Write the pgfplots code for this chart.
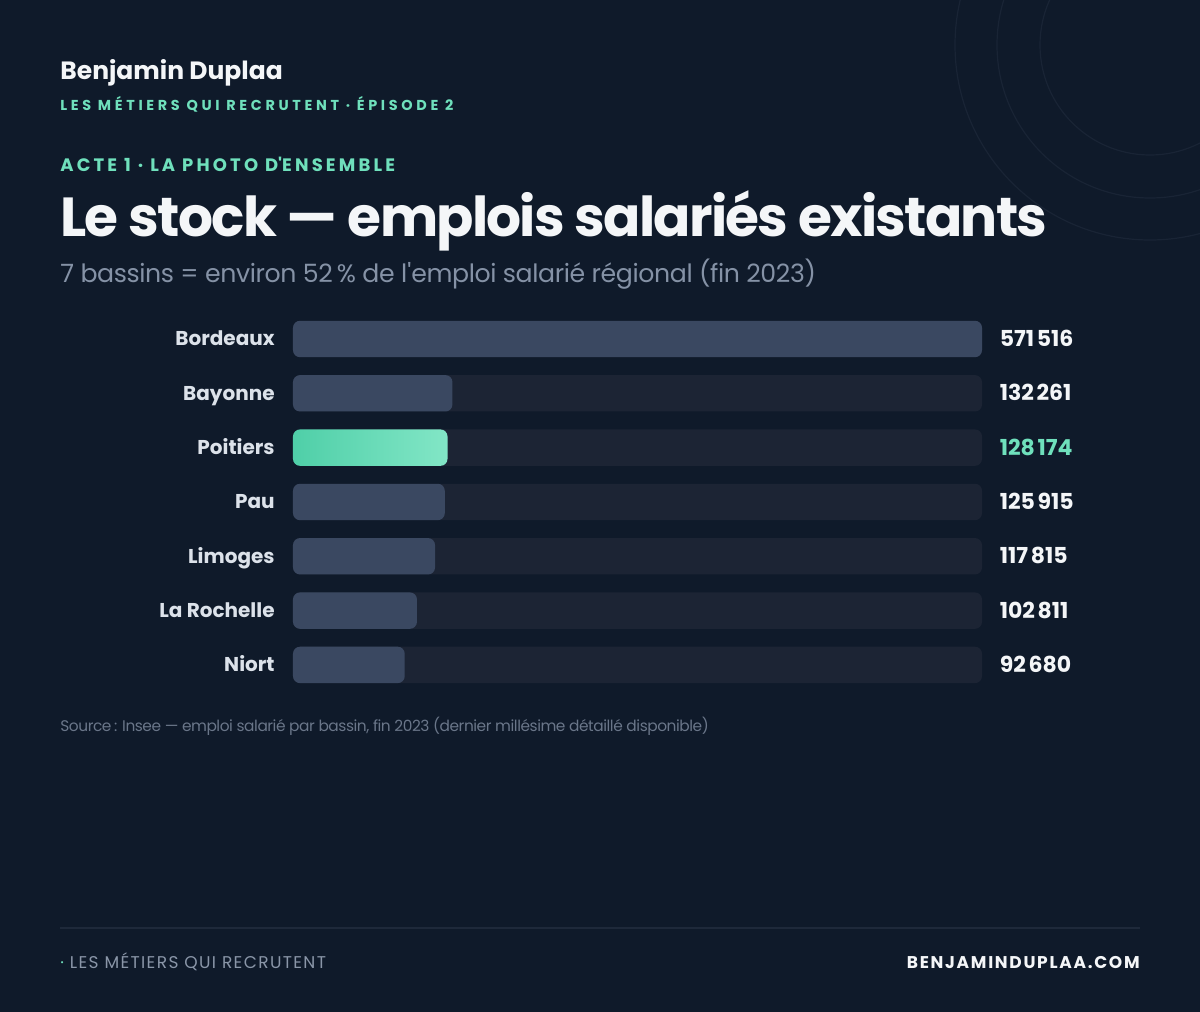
\documentclass[border=0pt]{standalone}
\usepackage{fontspec}
\setmainfont{Poppins}
\usepackage{pgfplots}
\usepackage{pgfplotstable}
\pgfplotsset{compat=1.18}

\definecolor{bg}{HTML}{0F1A2A}
\definecolor{track}{HTML}{1C2434}
\definecolor{barc}{HTML}{3A4861}
\definecolor{tealA}{HTML}{4FCFA8}
\definecolor{tealB}{HTML}{82E6C6}
\definecolor{tealtxt}{HTML}{6FE0BC}
\definecolor{whitetxt}{HTML}{F4F6F8}
\definecolor{citytxt}{HTML}{DCE2EA}
\definecolor{subtxt}{HTML}{8592A6}
\definecolor{srctxt}{HTML}{6A7689}
\definecolor{foottxt}{HTML}{8A96A8}
\definecolor{rule}{HTML}{1E293A}
\definecolor{ring}{HTML}{192435}

% emplois salariés par bassin, fin 2023
\pgfplotstableread{
idx value full
0 571516 571516
1 132261 571516
3 125915 571516
4 117815 571516
5 102811 571516
6 92680 571516
}\bassins
\pgfplotstableread{
idx value full
2 128174 571516
}\poitiers

\begin{document}
\begin{tikzpicture}[x=0.5pt,y=-0.5pt]
\clip (0,0) rectangle (1200,1012);
\fill[bg] (0,0) rectangle (1200,1012);

% decorative rings
\draw[ring,line width=0.6pt] (1150,45) circle[radius=110];
\draw[ring,line width=0.6pt] (1150,45) circle[radius=153];
\draw[ring,line width=0.6pt] (1150,45) circle[radius=195];

% header
\node[anchor=base west,inner sep=0,text=whitetxt] at (60,79)
  {\fontsize{12.5pt}{15pt}\selectfont\bfseries Benjamin Duplaa};
\node[anchor=base west,inner sep=0,text=tealtxt] at (60,110)
  {\fontsize{7.2pt}{9pt}\selectfont\bfseries\addfontfeature{LetterSpace=25.5}LES MÉTIERS QUI RECRUTENT · ÉPISODE 2};
\node[anchor=base west,inner sep=0,text=tealtxt] at (60,171)
  {\fontsize{9pt}{11pt}\selectfont\bfseries\addfontfeature{LetterSpace=17.5}ACTE 1 · LA PHOTO D\textquotesingle ENSEMBLE};
\node[anchor=base west,inner sep=0,text=whitetxt] at (60,236)
  {\fontsize{27.5pt}{32pt}\selectfont\bfseries\addfontfeature{LetterSpace=-3.2}Le stock — emplois salariés existants};
\node[anchor=base west,inner sep=0,text=subtxt] at (60,282)
  {\fontsize{12.6pt}{15pt}\selectfont\addfontfeature{LetterSpace=-1.5}7 bassins = environ 52\,\% de l\textquotesingle emploi salarié régional (fin 2023)};

% bars
\begin{axis}[
  at={(146.5pt,-155.9pt)}, anchor=north west,
  scale only axis, width=344.5pt, height=190.15pt,
  xmin=0, xmax=571516,
  ymin=-0.5, ymax=6.5, y dir=reverse,
  xbar, bar width=0.67, bar shift=0pt,
  axis line style={draw=none}, major tick length=0pt,
  xtick=\empty,
  ytick={0,...,6},
  yticklabels={Bordeaux,Bayonne,Poitiers,Pau,Limoges,La Rochelle,Niort},
  yticklabel style={anchor=east, inner sep=0pt, xshift=-9pt,
    text height=7pt, text depth=0pt, text=citytxt,
    font=\fontsize{10pt}{12pt}\selectfont\bfseries},
  clip=false,
  point meta=explicit,
  nodes near coords={\pgfmathprintnumber[fixed,precision=0,1000 sep={\hspace{0.12em}},assume math mode=true]{\pgfplotspointmeta}},
  every node near coord/.append style={anchor=west, inner sep=0pt, xshift=8.7pt,
    text height=7.7pt, text depth=0pt,
    font=\fontsize{11pt}{13pt}\selectfont\bfseries},
]
\addplot[draw=none, fill=track, rounded corners=3.5pt,
  every node near coord/.append style={text=whitetxt}]
  table[x=full, y=idx, meta=value] {\bassins};
\addplot[draw=none, fill=track, rounded corners=3.5pt,
  every node near coord/.append style={text=tealtxt}]
  table[x=full, y=idx, meta=value] {\poitiers};
\addplot[draw=none, fill=barc, rounded corners=3.5pt, nodes near coords={}]
  table[x=value, y=idx, meta=value] {\bassins};
\addplot[draw=none, left color=tealA, right color=tealB, rounded corners=3.5pt, nodes near coords={}]
  table[x=value, y=idx, meta=value] {\poitiers};
\end{axis}

% source
\node[anchor=base west,inner sep=0,text=srctxt] at (60,731)
  {\fontsize{7.7pt}{10pt}\selectfont\addfontfeature{LetterSpace=-3}Source\,: Insee — emploi salarié par bassin, fin 2023 (dernier millésime détaillé disponible)};

% footer
\draw[rule,line width=0.75pt] (60,928) -- (1140,928);
\node[anchor=base west,inner sep=0,text=foottxt] at (60,968)
  {\fontsize{8.5pt}{10pt}\selectfont\addfontfeature{LetterSpace=8}{\color{tealtxt}·} LES MÉTIERS QUI RECRUTENT};
\node[anchor=base east,inner sep=0,text=whitetxt] at (1140,968)
  {\fontsize{8.5pt}{10pt}\selectfont\bfseries\addfontfeature{LetterSpace=10}BENJAMINDUPLAA.COM};
\end{tikzpicture}
\end{document}
